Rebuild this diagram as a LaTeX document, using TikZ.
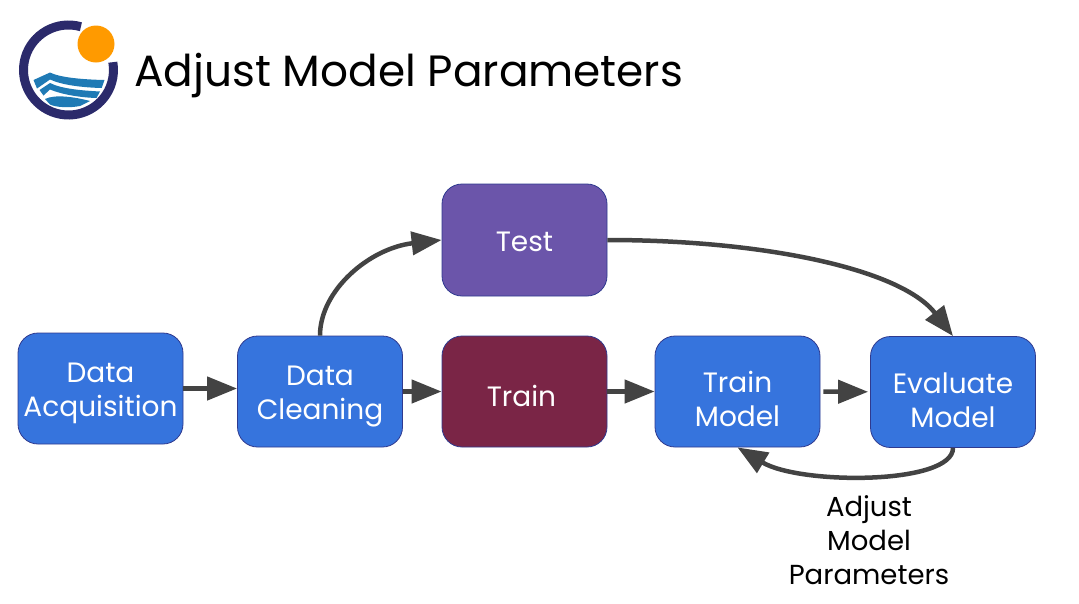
\documentclass[tikz,border=0pt]{standalone}
\usepackage{fontspec}
\setmainfont{Poppins}
\usetikzlibrary{arrows.meta}
\definecolor{stepblue}{HTML}{3674DD}
\definecolor{trainred}{HTML}{7A2546}
\definecolor{testpurple}{HTML}{6B55AA}
\definecolor{edgeblue}{HTML}{2F3A8F}
\definecolor{arrowgray}{HTML}{434343}
\definecolor{ringblue}{HTML}{2B2A6B}
\definecolor{sunorange}{HTML}{FF9A00}
\definecolor{waveblue}{HTML}{1F7AB5}
\newcommand{\boxlines}[2]{\raisebox{-#1}[0pt][0pt]{\begin{tabular}{@{}c@{}}#2\end{tabular}}}
\tikzset{
  stepbox/.style={draw=edgeblue, line width=.8pt, fill=stepblue, rounded corners=20pt,
    minimum width=165pt, minimum height=111pt, text=white, inner sep=0pt,
    font=\fontsize{28}{34}\selectfont},
  flow/.style={draw=arrowgray, line width=4.5pt, -{Triangle[length=30pt,width=23pt]}},
  wave/.style={fill=waveblue, draw=none}
}

\begin{document}
\begin{tikzpicture}[x=1pt,y=-1pt]
  \useasboundingbox (0,0) rectangle (1079,603);
  % logo
  \draw[ringblue, line width=9pt] (68.5,70) ++(74:45pt) arc[start angle=74, end angle=370, radius=45pt];
  \fill[sunorange] (96,44) circle[radius=18.5pt];
  \fill[wave] (33.5,80) -- (50,72.5) .. controls (60,77.5) and (82,79.5) .. (104.5,80) -- (101.7,88)
    .. controls (82,87.5) and (62,85) .. (50,79.5) -- (37,88.5) -- cycle;
  \fill[wave] (39.5,90) -- (50,83) .. controls (62,89) and (82,90.5) .. (100,91.5) -- (96.5,98)
    .. controls (80,97.5) and (62,94.5) .. (50,89.5) -- (43.5,95.5) -- cycle;
  \fill[wave] (45,99) .. controls (55,94) and (75,97) .. (90,101) -- (80,106)
    .. controls (70,108) and (56,107.5) .. (50,104.5) -- cycle;
  % title
  \node[anchor=west, inner sep=0pt, font=\fontsize{43.8}{50}\selectfont] (title) at (134,76) {Adjust Model Parameters};
  % boxes
  \node[stepbox] (acq) at (100.5,388.5) {\boxlines{10.7pt}{Data\\Acquisition}};
  \node[stepbox] (clean) at (320,391.5) {\boxlines{10.7pt}{Data\\Cleaning}};
  \node[stepbox, fill=trainred] (train) at (524.5,391.5) {\boxlines{14.7pt}{Train\hspace*{6pt}}};
  \node[stepbox, fill=testpurple, minimum height=112pt] (test) at (524.5,240) {\boxlines{11.2pt}{Test}};
  \node[stepbox] (fit) at (737.5,391.5) {\boxlines{17.7pt}{Train\\Model}};
  \node[stepbox] (eval) at (953,392) {\boxlines{18.2pt}{Evaluate\\Model}};
  % arrows
  \draw[flow] (acq.east) -- (clean.west |- acq.east);
  \draw[flow] (clean) -- (train);
  \draw[flow] (train) -- (fit);
  \draw[flow, shorten <=3pt, shorten >=2pt] (fit) -- (eval);
  \draw[flow] (clean.north) .. controls (320,290) and (370,248) .. (test.west);
  \draw[flow] (test.east) .. controls (760,240) and (900,268) .. (eval.north);
  \draw[flow] (eval.south) .. controls (953,485) and (800,485) .. (fit.south);
  % label
  \node[align=center, inner sep=0pt, font=\fontsize{27.5}{34}\selectfont] (adjust) at (869,540) {Adjust\\Model\\Parameters};
\end{tikzpicture}
\end{document}
